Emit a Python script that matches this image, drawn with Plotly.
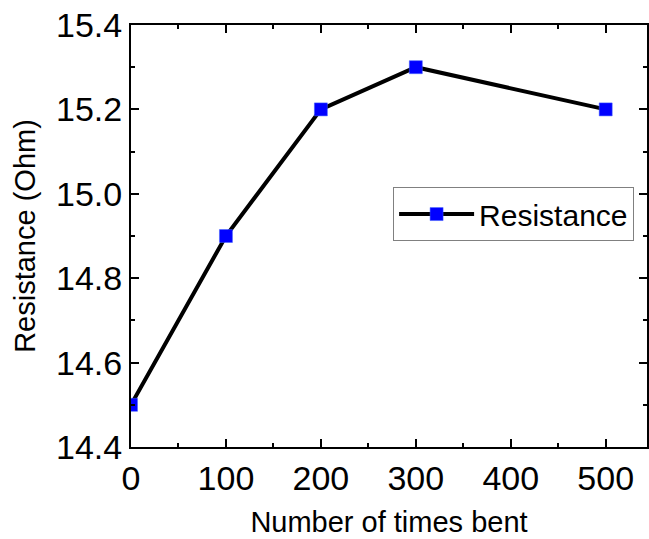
import plotly.graph_objects as go

bends = [0, 100, 200, 300, 500]
resistance = [14.5, 14.9, 15.2, 15.3, 15.2]
x_ticks = [0, 100, 200, 300, 400, 500]
y_ticks = [14.4, 14.6, 14.8, 15.0, 15.2, 15.4]
y_tick_text = ["14.4", "14.6", "14.8", "15.0", "15.2", "15.4"]

FONT = "Liberation Sans, Arial, sans-serif"

fig = go.Figure()
fig.add_trace(go.Scatter(
    x=bends, y=resistance, mode="lines+markers", name="Resistance",
    line=dict(color="black", width=4),
    marker=dict(symbol="square", size=13, color="#0000ff",
                line=dict(color="#4060ff", width=0.5)),
))

axis_common = dict(
    showline=True, linecolor="black", linewidth=2, mirror="ticks",
    ticks="inside", ticklen=8, tickwidth=1.5, tickcolor="black",
    showgrid=False, zeroline=False,
    minor=dict(ticks="inside", ticklen=4, tickwidth=1.5, tickcolor="black", showgrid=False),
)

fig.update_xaxes(
    range=[0, 543.5], tickvals=x_ticks, ticktext=[str(v) for v in x_ticks],
    tickfont=dict(family=FONT, size=34, color="black"),
    title=dict(text="Number of times bent", font=dict(family=FONT, size=29, color="black"), standoff=16),
    minor_dtick=50,
    **axis_common,
)
fig.update_yaxes(
    range=[14.4, 15.4], tickvals=y_ticks, ticktext=y_tick_text,
    tickfont=dict(family=FONT, size=34, color="black"),
    title=dict(text="Resistance (Ohm)", font=dict(family=FONT, size=29, color="black"), standoff=12),
    minor_dtick=0.1,
    **axis_common,
)

fig.update_layout(
    width=649, height=539,
    margin=dict(l=131, r=0, t=25, b=92),
    paper_bgcolor="white", plot_bgcolor="white",
    showlegend=True,
    legend=dict(x=0.975, y=0.616, xanchor="right", yanchor="top",
                bordercolor="#808080", borderwidth=1, bgcolor="white",
                font=dict(family=FONT, size=30, color="black"),
                itemwidth=75, tracegroupgap=0),
)

fig.write_html("out.html")
